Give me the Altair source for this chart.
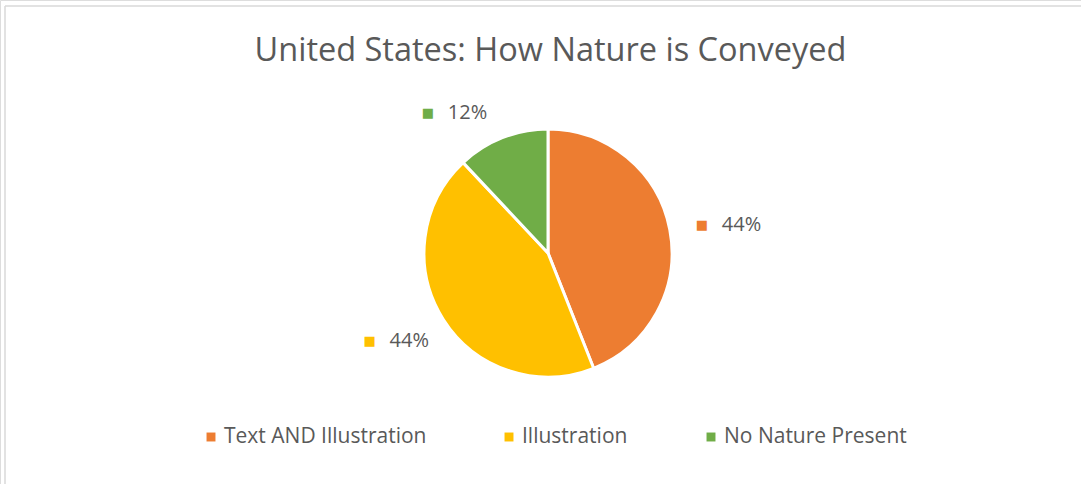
import altair as alt
import pandas as pd

TITLE = "United States: How Nature is Conveyed"
categories = ["Text AND Illustration", "Illustration", "No Nature Present"]
shares = [44, 44, 12]
colors = ["#ED7D31", "#FFC000", "#70AD47"]

df = pd.DataFrame({
    "category": categories,
    "share": shares,
    "order": list(range(len(categories))),
    "label": [f"{v}%" for v in shares],
    "sq": ["\u25A0"] * len(categories),
})

W, H = 1081, 484
CX, CY = 548, 253
FONT = "Open Sans"
GRAY = "#595959"
LR = 177  # data label radius
# small per-label nudges (Excel best-fit placement), as (dx, dy) style offsets
NUDGE = [(8, 5), (-1, -7), (-27, 25)]

color = alt.Color("category:N", scale=alt.Scale(domain=categories, range=colors), legend=None)

pie = alt.Chart(df).mark_arc(radius=124, stroke="white", strokeWidth=3).encode(
    theta=alt.Theta("share:Q", stack=True),
    order=alt.Order("order:Q"),
    color=color,
    x=alt.value(CX), y=alt.value(CY),
)

lab_base = alt.Chart(df).transform_stack(
    stack="share", groupby=[], as_=["s0", "s1"], sort=[alt.SortField("order")]
).transform_joinaggregate(
    total="sum(share)"
).transform_calculate(
    mid="(datum.s0 + datum.s1) / 2 / datum.total"
).encode(
    theta=alt.Theta("mid:Q", stack=None, scale=alt.Scale(domain=[0, 1])),
    x=alt.value(CX), y=alt.value(CY),
)


def labels(cat, ddx=0, ddy=0):
    test = alt.datum.category == cat
    sq = lab_base.mark_text(radius=LR, dx=-28 + ddx, dy=ddy, font="DejaVu Sans", fontSize=13).encode(
        text="sq:N", color=color
    ).transform_filter(test)
    tx = lab_base.mark_text(radius=LR, dx=-8 + ddx, dy=ddy, align="left", font=FONT, fontSize=20).encode(
        text="label:N", color=alt.value(GRAY)
    ).transform_filter(test)
    return [sq, tx]


label_layers = []
for cat, (ndx, ndy) in zip(categories, NUDGE):
    label_layers += labels(cat, ndx, ndy)

legx = alt.X("order:Q", scale=alt.Scale(domain=[0, 1, 2], range=[211, 509, 711]), axis=None)
leg_sq = alt.Chart(df).mark_square(size=80, opacity=1, filled=True).encode(
    x=legx, y=alt.value(437), color=color
)
leg_txt = alt.Chart(df).mark_text(align="left", dx=13, font=FONT, fontSize=21, color=GRAY).encode(
    x=legx, y=alt.value(437), text="category:N"
)

title = alt.Chart(pd.DataFrame({"t": [TITLE]})).mark_text(
    font=FONT, fontSize=32.5, color=GRAY, baseline="alphabetic", align="center"
).encode(x=alt.value(550.5), y=alt.value(61), text="t:N")

border = alt.Chart(pd.DataFrame({"a": [0]})).mark_rule(color="#D9D9D9", strokeWidth=1.5)
bl = border.encode(x=alt.value(5), y=alt.value(6), y2=alt.value(H))
bt = border.encode(x=alt.value(5), x2=alt.value(W), y=alt.value(6))

chart = alt.layer(bl, bt, title, pie, *label_layers, leg_sq, leg_txt).resolve_scale(
    x="independent", theta="independent"
).properties(
    width=W, height=H, padding=0, autosize=alt.AutoSizeParams(type="none")
).configure_view(stroke=None).configure(background="white")

chart.save("out.html", embed_options={"renderer": "svg", "actions": False})
